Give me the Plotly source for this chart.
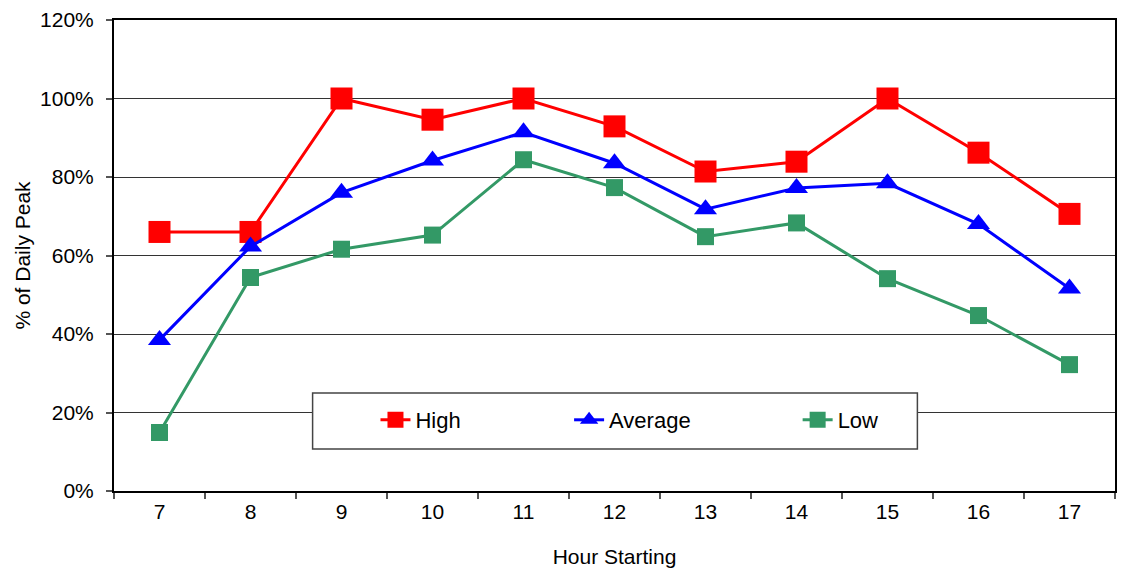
import plotly.graph_objects as go

# Hour of day (start of the hour)
hours = [7, 8, 9, 10, 11, 12, 13, 14, 15, 16, 17]

# Share of the daily peak, in percent
high = [66.0, 66.0, 100.0, 94.6, 100.0, 92.9, 81.4, 83.9, 100.0, 86.2, 70.6]
average = [38.5, 62.3, 76.0, 84.2, 91.4, 83.5, 71.8, 77.2, 78.4, 68.0, 51.6]
low = [14.9, 54.4, 61.6, 65.2, 84.4, 77.3, 64.8, 68.3, 54.1, 44.7, 32.2]

y_ticks = [0, 20, 40, 60, 80, 100, 120]
y_tick_text = [f"{v}%" for v in y_ticks]

FONT = "Liberation Sans, Arial, sans-serif"

# Plot area in pixels
W, H = 1122, 572
L, R, T, B = 114, 5, 20, 81
pw, ph = W - L - R, H - T - B


def px_x(x):
    return (x - L) / pw


def px_y(y):
    return (H - B - y) / ph


fig = go.Figure()

series = [
    ("High", high, "#FF0000", "square", 22, "legend"),
    ("Average", average, "#0000FF", "triangle-up", 20, "legend2"),
    ("Low", low, "#339966", "square", 17, "legend3"),
]
for name, vals, color, symbol, size, leg in series:
    fig.add_trace(go.Scatter(
        x=hours, y=vals, name=name, mode="lines+markers",
        line=dict(color=color, width=3),
        marker=dict(symbol=symbol, size=size, color=color, line=dict(width=0)),
        legend=leg, cliponaxis=False,
    ))

legend_common = dict(
    orientation="h", yanchor="middle", xanchor="left",
    bgcolor="rgba(0,0,0,0)", borderwidth=0,
    font=dict(family=FONT, size=22, color="#000000"),
    itemsizing="trace",
)

fig.update_layout(
    width=W, height=H,
    margin=dict(l=L, r=R, t=T, b=B),
    paper_bgcolor="white", plot_bgcolor="white",
    font=dict(family=FONT, size=21, color="#000000"),
    showlegend=True,
    legend=dict(x=px_x(415 - 39), y=px_y(420), **legend_common),
    legend2=dict(x=px_x(609 - 39), y=px_y(420), **legend_common),
    legend3=dict(x=px_x(838 - 39), y=px_y(420), **legend_common),
    shapes=[
        # legend frame
        dict(type="rect", xref="paper", yref="paper",
             x0=px_x(313), x1=px_x(919), y0=px_y(449), y1=px_y(393),
             line=dict(color="#444444", width=1.5), fillcolor="white",
             layer="above"),
    ],
)

fig.update_xaxes(
    range=[6.5, 17.5],
    tickmode="array", tickvals=hours, ticktext=[str(h) for h in hours],
    ticks="outside", ticklen=1, tickcolor="rgba(0,0,0,0)",
    minor=dict(tick0=0.5, dtick=1, ticks="outside", ticklen=6,
               tickcolor="#555555", tickwidth=1.5, showgrid=False),
    showgrid=False, zeroline=False,
    showline=True, linecolor="#000000", linewidth=2, mirror=True,
    tickfont=dict(family=FONT, size=21),
    title=dict(text="Hour Starting", font=dict(family=FONT, size=21), standoff=27),
)

fig.update_yaxes(
    range=[0, 120],
    tickmode="array", tickvals=y_ticks, ticktext=y_tick_text,
    ticks="outside", ticklen=6, tickcolor="#555555", tickwidth=1.5,
    ticklabelstandoff=8,
    showgrid=True, gridcolor="#333333", gridwidth=1,
    zeroline=False,
    showline=True, linecolor="#000000", linewidth=2, mirror=True,
    tickfont=dict(family=FONT, size=21),
    title=dict(text="% of Daily Peak", font=dict(family=FONT, size=21), standoff=4),
)

fig.write_html("out.html")
